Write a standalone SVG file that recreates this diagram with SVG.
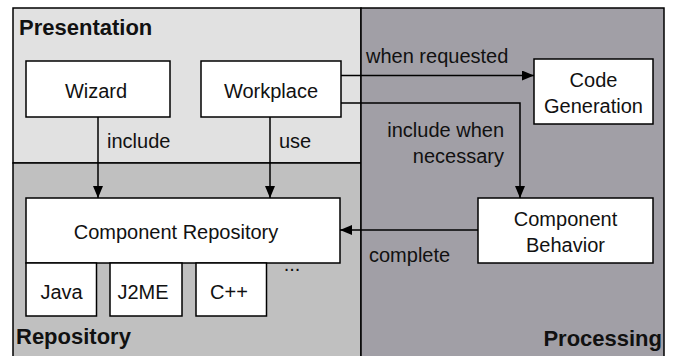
<svg xmlns="http://www.w3.org/2000/svg" width="676" height="356" viewBox="0 0 676 356">
<style>
.box{fill:#ffffff;stroke:#000000;stroke-width:1.5}
.t{font-family:"Liberation Sans",Arial,sans-serif;font-size:20px;fill:#111111}
.b{font-family:"Liberation Sans",Arial,sans-serif;font-size:22px;font-weight:bold;fill:#111111}
.c{fill:none;stroke:#000000;stroke-width:1.5}
</style>
<defs>
<marker id="ah" markerWidth="12" markerHeight="10" refX="12" refY="5" orient="auto" markerUnits="userSpaceOnUse">
<path d="M0,0 L12,5 L0,10 Z" fill="#000000"/>
</marker>
</defs>
<g id="regions">
<rect id="presentation" x="13" y="8" width="348" height="155" fill="#e1e1e1" stroke="#000000" stroke-width="1.5"/>
<rect id="repository" x="13" y="163" width="348" height="200" fill="#c0c0c0" stroke="#000000" stroke-width="1.5"/>
<rect id="processing" x="361" y="8" width="303" height="355" fill="#a19fa6" stroke="#000000" stroke-width="1.5"/>
<text class="b" x="19" y="35">Presentation</text>
<text class="b" x="16" y="344">Repository</text>
<text class="b" x="662" y="346" text-anchor="end">Processing</text>
</g>
<g id="wizard">
<rect class="box" x="26" y="61" width="144" height="56"/>
<text class="t" x="96" y="98" text-anchor="middle">Wizard</text>
</g>
<g id="workplace">
<rect class="box" x="201" y="61" width="140" height="56"/>
<text class="t" x="271" y="98" text-anchor="middle">Workplace</text>
</g>
<g id="code-generation">
<rect class="box" x="534" y="59" width="119" height="65"/>
<text class="t" x="593.5" y="87" text-anchor="middle">Code</text>
<text class="t" x="593.5" y="113" text-anchor="middle">Generation</text>
</g>
<g id="component-behavior">
<rect class="box" x="478" y="198" width="175" height="65"/>
<text class="t" x="565.5" y="226" text-anchor="middle">Component</text>
<text class="t" x="565.5" y="252" text-anchor="middle">Behavior</text>
</g>
<g id="component-repository">
<rect class="box" x="26" y="198" width="314" height="65"/>
<text class="t" x="176" y="239" text-anchor="middle">Component Repository</text>
</g>
<g id="java">
<rect class="box" x="26" y="263" width="70.5" height="53"/>
<text class="t" x="61.5" y="299" text-anchor="middle">Java</text>
</g>
<g id="j2me">
<rect class="box" x="110" y="263" width="72" height="53"/>
<text class="t" x="143" y="299" text-anchor="middle">J2ME</text>
</g>
<g id="cpp">
<rect class="box" x="196" y="263" width="70.5" height="53"/>
<text class="t" x="229" y="299" text-anchor="middle">C++</text>
</g>
<g id="more">
<text class="t" x="292" y="271" text-anchor="middle">...</text>
</g>
<g id="connectors">
<line class="c" x1="98" y1="117" x2="98" y2="198" marker-end="url(#ah)"/>
<line class="c" x1="270" y1="117" x2="270" y2="198" marker-end="url(#ah)"/>
<line class="c" x1="341" y1="75.5" x2="534" y2="75.5" marker-end="url(#ah)"/>
<polyline class="c" points="341,103 520,103 520,198" marker-end="url(#ah)"/>
<line class="c" x1="478" y1="230" x2="340" y2="230" marker-end="url(#ah)"/>
<text class="t" x="107" y="148">include</text>
<text class="t" x="279" y="148">use</text>
<text class="t" x="366" y="63">when requested</text>
<text class="t" x="504" y="137" text-anchor="end">include when</text>
<text class="t" x="504" y="163" text-anchor="end">necessary</text>
<text class="t" x="369" y="262">complete</text>
</g>
</svg>
